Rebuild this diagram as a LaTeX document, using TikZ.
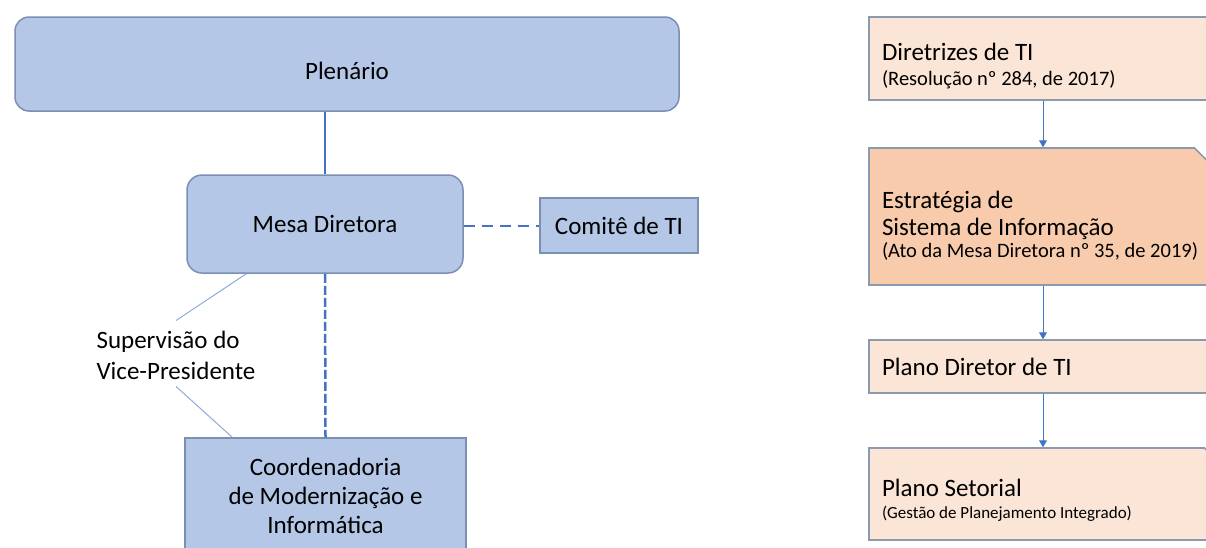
\documentclass[tikz,border=0pt]{standalone}
\usepackage{fontspec}
\setmainfont{Carlito}
\usetikzlibrary{arrows.meta}
\definecolor{boxblue}{HTML}{B4C7E7}
\definecolor{edgeblue}{HTML}{7A8FB2}
\definecolor{linkblue}{HTML}{4472C4}
\definecolor{paleline}{HTML}{8EA9DB}
\definecolor{peach}{HTML}{FBE5D6}
\definecolor{salmon}{HTML}{F8CBAD}
\definecolor{edgegrey}{HTML}{8C9AB0}
\newcommand{\droptext}[3]{\raisebox{-#1}[\height][\depth]{\spaceskip=0pt\xspaceskip=0pt\begin{tabular}{@{}#2@{}}#3\end{tabular}}}
\tikzset{orgbox/.style={draw=edgeblue, line width=1.5pt, fill=boxblue, inner sep=0pt, align=center, font=\fontsize{25}{29}\selectfont}}
\tikzset{docbox/.style={draw=edgegrey, line width=1.5pt, fill=peach, minimum width=348pt, text width=322pt, inner xsep=13pt, inner ysep=0pt, align=left, font=\fontsize{25}{27}\selectfont}}
\tikzset{orgline/.style={linkblue, line width=2pt}, supline/.style={paleline, line width=1pt},
         flowline/.style={linkblue, line width=1pt, -{Triangle[length=7pt,width=8pt]}}}
\newcommand{\subfont}{\fontsize{20.5}{24}\selectfont}
\newcommand{\snipcorner}[2]{%
  \fill[white] ([xshift=-#2]#1.north east) -- ([xshift=2pt,yshift=2pt]#1.north east) -- ([yshift=-#2]#1.north east) -- cycle;
  \draw[edgegrey, line width=1.5pt] ([xshift=-#2]#1.north east) -- ([yshift=-#2]#1.north east);}

\begin{document}
\begin{tikzpicture}[x=1pt,y=-1pt]
  \useasboundingbox (0,0) rectangle (1206,547);
  \node[orgbox, rounded corners=14pt, minimum width=664pt, minimum height=94pt] (plen) at (347,64) {\droptext{10pt}{c}{Plenário}};
  \node[orgbox, rounded corners=15pt, minimum width=276pt, minimum height=98pt] (mesa) at (325,224) {Mesa Diretora};
  \node[orgbox, minimum width=158pt, minimum height=55pt] (comite) at (619,225.5) {Comitê de TI};
  \node[orgbox, minimum width=281pt, minimum height=116pt] (coord) at (325.5,496) {Coordenadoria\\de Modernização e\\Informática};
  \node[inner sep=0pt, align=left, font=\fontsize{25}{31}\selectfont] (sup) at (176,355) {Supervisão do\\Vice-Presidente};

  \draw[orgline] (plen.south -| mesa.north) -- (mesa.north);
  \draw[orgline, dash pattern=on 11pt off 7pt] (mesa.east |- comite.west) -- (comite.west);
  \draw[orgline, line width=2.5pt, dash pattern=on 9pt off 3pt] (mesa.south) -- (coord.north);
  \draw[supline] ([xshift=60pt]mesa.south west) -- ([yshift=10pt]sup.north);
  \draw[supline] ([yshift=-7pt]sup.south) -- ([xshift=48pt]coord.north west);

  \node[docbox, minimum height=83pt] (dir) at (1043,58.5) {\droptext{9.5pt}{l}{Diretrizes de TI\\[-2pt] {\subfont(Resolução nº 284, de 2017)}}};
  \node[docbox, fill=salmon, minimum height=137pt] (estr) at (1043,216.5) {\droptext{11pt}{l}{Estratégia de\\ Sistema de Informação\\[-5pt] {\subfont(Ato da Mesa Diretora nº 35, de 2019)}}};
  \node[docbox, minimum height=53pt] (pdir) at (1043,366.5) {\droptext{3.5pt}{l}{Plano Diretor de TI}};
  \node[docbox, minimum height=92pt] (pset) at (1043,494) {\droptext{8pt}{l}{Plano Setorial\\[-5pt] {\fontsize{17}{20}\selectfont(Gestão de Planejamento Integrado)}}};
  \snipcorner{estr}{24pt}
  \snipcorner{pset}{14pt}

  \draw[flowline] (dir.south) -- (estr.north);
  \draw[flowline] (estr.south) -- (pdir.north);
  \draw[flowline] (pdir.south) -- (pset.north);
\end{tikzpicture}
\end{document}
